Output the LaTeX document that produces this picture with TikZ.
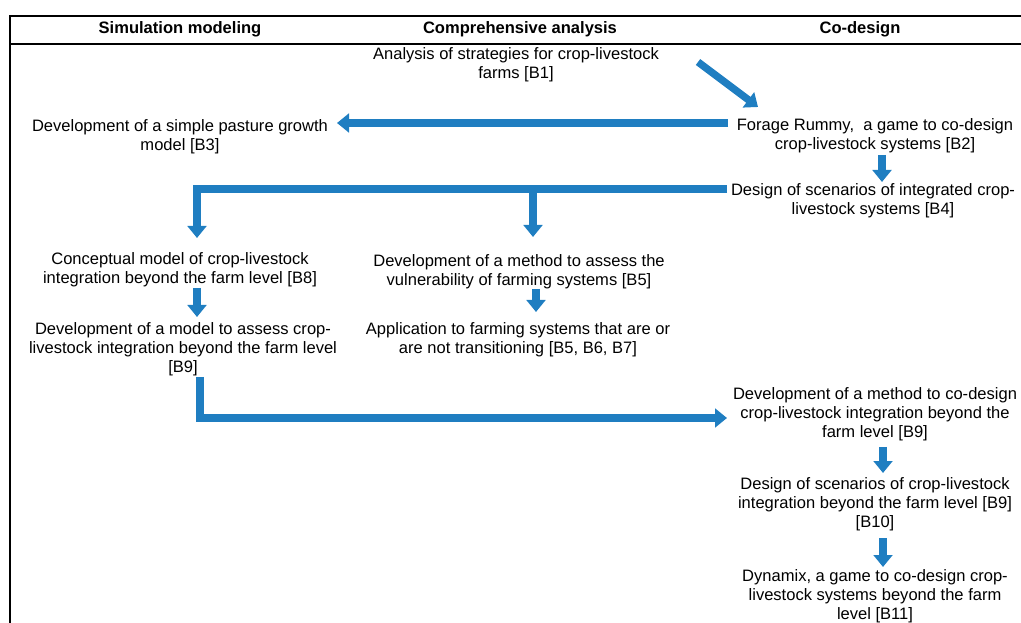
\documentclass[tikz,border=0pt]{standalone}
\usepackage{fontspec}
\setmainfont{Liberation Sans}
\usetikzlibrary{arrows.meta}
\definecolor{flowblue}{RGB}{31,126,193}

\begin{document}
\begin{tikzpicture}
    [
    x=0.75pt, y=-0.75pt,
    flow/.style={draw=flowblue, line width=5.5pt, line join=miter, -{Triangle[width=14pt,length=9pt]}},
    every node/.style={font=\fontsize{12.4}{14.2}\selectfont, align=center, inner sep=0pt},
    head/.style={font=\fontsize{12.4}{14.2}\selectfont\bfseries}
    ]
    \useasboundingbox (0,0) rectangle (1021,623);

    % table frame
    \draw[line width=1pt] (1021,16) -- (10,16) -- (10,623);
    \draw[line width=1pt] (10,44) -- (1021,44);

    \node[head] (hsim) at (180,29) {Simulation modeling};
    \node[head] (hana) at (520,29) {Comprehensive analysis};
    \node[head] (hcod) at (860,29) {Co-design};

    \node (b1) at (516,65) {Analysis of strategies for crop-livestock\\farms [B1]};
    \node (b2) at (875,136) {Forage Rummy,\ \ a game to co-design\\crop-livestock systems [B2]};
    \node (b3) at (180,137) {Development of a simple pasture growth\\model [B3]};
    \node (b4) at (873,201) {Design of scenarios of integrated crop-\\livestock systems [B4]};
    \node (b8) at (180,270) {Conceptual model of crop-livestock\\integration beyond the farm level [B8]};
    \node (b5) at (519,272) {Development of a method to assess the\\vulnerability of farming systems [B5]};
    \node (b9) at (183,349) {Development of a model to assess crop-\\livestock integration beyond the farm level\\{}[B9]};
    \node (b6) at (518,340) {Application to farming systems that are or\\are not transitioning [B5, B6, B7]};
    \node (b9c) at (875,414) {Development of a method to co-design\\crop-livestock integration beyond the\\farm level [B9]};
    \node (b10) at (875,504) {Design of scenarios of crop-livestock\\integration beyond the farm level [B9]\\{}[B10]};
    \node (b11) at (875,596) {Dynamix, a game to co-design crop-\\livestock systems beyond the farm\\level [B11]};

    \coordinate (fork) at ([shift={(-340,-12)}]b4.center);

    % arrows
    \draw[flow] ([shift={(182,-3)}]b1.center) -- ([shift={(-117,-29)}]b2.center);
    \draw[flow] ([shift={(-147,-13)}]b2.center) -- ([shift={(157,-14)}]b3.center);
    \draw[flow] ([shift={(7,19)}]b2.center) -- ([shift={(9,-19)}]b4.center);
    \draw[flow] ([shift={(-146,-12)}]b4.center) -| ([shift={(17,-32)}]b8.center);
    \draw[flow] (fork) -- ([shift={(14,-35)}]b5.center);
    \draw[flow] ([shift={(17,18)}]b8.center) -- ([shift={(14,-32)}]b9.center);
    \draw[flow] ([shift={(17,17)}]b5.center) -- ([shift={(18,-28)}]b6.center);
    \draw[flow] ([shift={(17,28)}]b9.center) |- ([shift={(-148,4)}]b9c.center);
    \draw[flow] ([shift={(8,33)}]b9c.center) -- ([shift={(8,-31)}]b10.center);
    \draw[flow] ([shift={(8,34)}]b10.center) -- ([shift={(8,-29)}]b11.center);
\end{tikzpicture}
\end{document}
